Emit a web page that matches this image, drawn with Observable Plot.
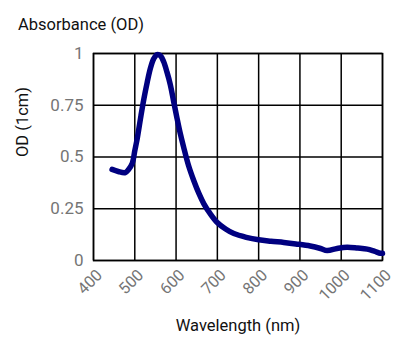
<!DOCTYPE html>
<html><head><meta charset="utf-8">
<script src="https://cdn.jsdelivr.net/npm/d3@7"></script>
<script src="https://cdn.jsdelivr.net/npm/@observablehq/plot@0.6"></script>
<style>
body{margin:0;background:#fff;font-family:Roboto,sans-serif;}
#wrap{position:relative;width:400px;height:352px;}
#title{position:absolute;left:18px;top:15px;font-size:16.5px;color:#111;}
</style></head>
<body><div id="wrap"><div id="title">Absorbance (OD)</div></div>
<script>
const wavelength = [445,460,477,485,494,500,506,515,522,530,538,546,554,562,570,578,586,594,602,610,618,630,643,655,667,683,699,720,740,770,800,830,861,890,925,950,966,990,1014,1040,1063,1080,1095,1100];
const od = [0.44,0.43,0.425,0.44,0.47,0.53,0.59,0.70,0.78,0.86,0.93,0.975,0.995,0.99,0.96,0.91,0.85,0.77,0.69,0.615,0.55,0.46,0.385,0.325,0.275,0.225,0.185,0.152,0.13,0.112,0.10,0.093,0.087,0.08,0.07,0.058,0.048,0.058,0.064,0.06,0.055,0.045,0.035,0.035];
const xTicks = [400,500,600,700,800,900,1000,1100];
const yTicks = [0,0.25,0.5,0.75,1];
const data = wavelength.map((w,i)=>({w, v: od[i]}));

const chart = Plot.plot({
  width: 400, height: 352,
  marginLeft: 93, marginRight: 18, marginTop: 53, marginBottom: 92,
  style: {fontFamily: "Roboto, sans-serif", fontSize: "16px", background: "transparent"},
  x: {domain: [400,1100]},
  y: {domain: [0,1]},
  marks: [
    Plot.gridX(xTicks, {stroke: "#000", strokeOpacity: 1, strokeWidth: 1.5}),
    Plot.gridY(yTicks, {stroke: "#000", strokeOpacity: 1, strokeWidth: 1.5}),
    Plot.frame({stroke: "#000", strokeWidth: 1.5}),
    Plot.axisY(yTicks, {tickSize: 0, tickPadding: 10, tickFormat: d => String(d), color: "#757575", fontSize: 17, label: null}),
    Plot.axisX(xTicks, {tickSize: 0, tickPadding: 12, dx: 6, tickRotate: -45, tickFormat: d => String(d), color: "#757575", fontSize: 16, label: null}),
    Plot.line(data, {x: "w", y: "v", stroke: "#000080", strokeWidth: 5.5, curve: "catmull-rom", strokeLinecap: "round"}),
    Plot.text(["Wavelength (nm)"], {frameAnchor: "bottom", dy: 70, fill: "#111", fontSize: 16.5}),
    Plot.text(["OD (1cm)"], {frameAnchor: "left", dx: -71, rotate: -90, fill: "#111", fontSize: 16.5})
  ]
});
document.getElementById("wrap").appendChild(chart);
</script></body></html>
